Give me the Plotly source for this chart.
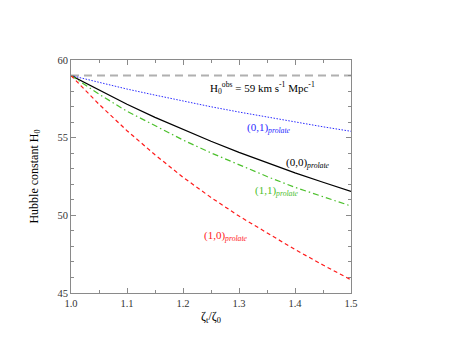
import plotly.graph_objects as go

# zeta_t / zeta_0
ratio = [1.0, 1.05, 1.1, 1.15, 1.2, 1.25, 1.3, 1.35, 1.4, 1.45, 1.5]

# Hubble constant for each model
h_01 = [59.0, 58.56, 58.13, 57.74, 57.36, 56.99, 56.65, 56.32, 56.0, 55.7, 55.41]
h_00 = [59.0, 58.05, 57.15, 56.31, 55.52, 54.77, 54.06, 53.38, 52.74, 52.13, 51.54]
h_11 = [59.0, 57.8, 56.7, 55.75, 54.85, 54.02, 53.25, 52.5, 51.8, 51.18, 50.6]
h_10 = [59.0, 57.15, 55.45, 53.9, 52.45, 51.15, 49.95, 48.85, 47.8, 46.8, 45.85]

obs_x = [1.0, 1.5]
obs_y = [59.0, 59.0]

SERIF = "'Liberation Serif', 'Times New Roman', Times, serif"

fig = go.Figure()
fig.add_trace(go.Scatter(x=obs_x, y=obs_y, mode="lines",
                         line=dict(color="#b0b0b0", width=2, dash="8px,5px")))
fig.add_trace(go.Scatter(x=ratio, y=h_01, mode="lines",
                         line=dict(color="#2a2aff", width=1, dash="1.5px,1.5px")))
fig.add_trace(go.Scatter(x=ratio, y=h_00, mode="lines",
                         line=dict(color="black", width=1.3)))
fig.add_trace(go.Scatter(x=ratio, y=h_11, mode="lines",
                         line=dict(color="#4cc02c", width=1.2, dash="6px,3px,1.5px,3px")))
fig.add_trace(go.Scatter(x=ratio, y=h_10, mode="lines",
                         line=dict(color="#ff1a1a", width=1.2, dash="4px,3px")))

labels = [
    (1.342, 58.2, "H<sub>0</sub><sup>obs</sup> = 59 km s<sup>-1</sup> Mpc<sup>-1</sup>", "black"),
    (1.354, 55.65, "(0,1)<sub><i>prolate</i></sub>", "#2a2aff"),
    (1.424, 53.35, "(0,0)<sub><i>prolate</i></sub>", "black"),
    (1.368, 51.55, "(1,1)<sub><i>prolate</i></sub>", "#4cc02c"),
    (1.277, 48.7, "(1,0)<sub><i>prolate</i></sub>", "#ff1a1a"),
]
for x, y, t, c in labels:
    fig.add_annotation(x=x, y=y, text=t, showarrow=False,
                       font=dict(family=SERIF, size=11, color=c))

axis_style = dict(
    showgrid=False, zeroline=False, showline=True, linecolor="#8a8a8a",
    linewidth=1, mirror="ticks", ticks="inside", ticklen=5, tickcolor="#8a8a8a",
    tickfont=dict(family=SERIF, size=10.5, color="#333"),
)

fig.update_xaxes(range=[1.0, 1.5], dtick=0.1, tickformat=".1f",
                 minor=dict(dtick=0.05, ticks="inside", ticklen=3, tickcolor="#8a8a8a"),
                 title=dict(text="ζ<sub>t</sub>/ζ<sub>0</sub>",
                            font=dict(family=SERIF, size=12, color="black"), standoff=4),
                 **axis_style)
fig.update_yaxes(range=[45, 60], dtick=5,
                 minor=dict(dtick=1, ticks="inside", ticklen=3, tickcolor="#8a8a8a"),
                 title=dict(text="Hubble constant H<sub>0</sub>",
                            font=dict(family=SERIF, size=12, color="black"), standoff=16),
                 **axis_style)

fig.update_layout(width=458, height=354, showlegend=False,
                  font=dict(family=SERIF),
                  margin=dict(l=63, r=115, t=52, b=69),
                  paper_bgcolor="white", plot_bgcolor="white")

fig.write_html("out.html")
